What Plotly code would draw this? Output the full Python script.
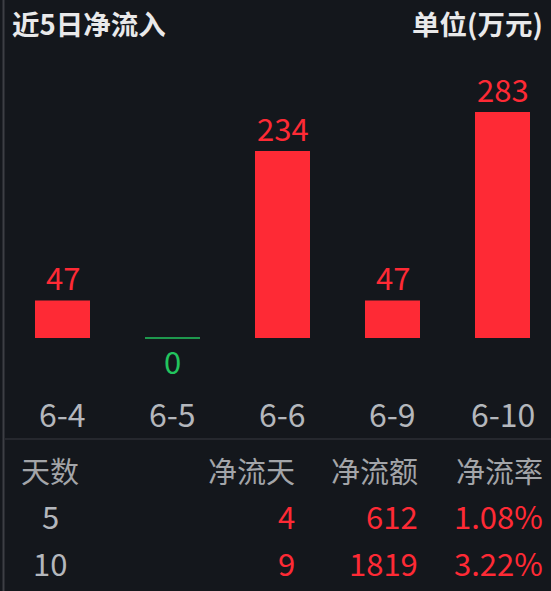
import plotly.graph_objects as go

# chart data
dates = ["6-4", "6-5", "6-6", "6-9", "6-10"]
net_inflow = [47, 0, 234, 47, 283]

# summary table
table_header = ["天数", "净流天", "净流额", "净流率"]
table_days = ["5", "10"]
table_inflow_days = ["4", "9"]
table_amount = ["612", "1819"]
table_rate = ["1.08%", "3.22%"]

W, H = 551, 591
BG = "#14171c"
RED = "#fe2a35"
GREEN = "#22c45e"
GRAY = "#b4b7bc"
FONT = "Noto Sans CJK SC"


def px(x):
    return x / W


def py(y):
    return 1 - y / H


fig = go.Figure()

# red bars for non-zero days
fig.add_trace(
    go.Bar(
        x=list(range(len(dates))),
        y=net_inflow,
        width=0.5,
        marker={"color": [RED if v > 0 else GREEN for v in net_inflow], "line": {"width": 0}},
        hoverinfo="skip",
    )
)

# zero days are a thin green line
for i, v in enumerate(net_inflow):
    if v == 0:
        fig.add_trace(
            go.Scatter(
                x=[i - 0.25, i + 0.25],
                y=[v, v],
                mode="lines",
                line={"color": GREEN, "width": 1.5},
                hoverinfo="skip",
            )
        )

annotations = []
# value labels
for i, v in enumerate(net_inflow):
    if v > 0:
        annotations.append(dict(x=i, y=v, xref="x", yref="y", text=str(v), showarrow=False,
                                yanchor="bottom", yshift=-1, font={"color": RED, "size": 31}))
    else:
        annotations.append(dict(x=i, y=v, xref="x", yref="y", text=str(v), showarrow=False,
                                yanchor="top", yshift=2, font={"color": GREEN, "size": 31}))
# date labels
for i, d in enumerate(dates):
    annotations.append(dict(x=i, y=py(413), xref="x", yref="paper", text=d, showarrow=False,
                            yanchor="middle", font={"color": GRAY, "size": 32}))

# title row
annotations.append(dict(x=px(10), y=py(23), xref="paper", yref="paper", text="<b>近5日净流入</b>",
                        showarrow=False, xanchor="left", yanchor="middle",
                        font={"color": "#e9e9ea", "size": 27.5}))
annotations.append(dict(x=px(545), y=py(23), xref="paper", yref="paper", text="<b>单位(万元)</b>",
                        showarrow=False, xanchor="right", yanchor="middle",
                        font={"color": "#e9e9ea", "size": 27.5}))

# table
col_x = [50, 297, 420, 545]
col_anchor = ["center", "right", "right", "right"]
row_y = [470, 515, 562]
for j, h in enumerate(table_header):
    annotations.append(dict(x=px(col_x[j]), y=py(row_y[0]), xref="paper", yref="paper", text=h,
                            showarrow=False, xanchor=col_anchor[j], yanchor="middle",
                            font={"color": "#a3a5a9", "size": 29}))
for r in range(len(table_days)):
    cells = [table_days[r], table_inflow_days[r], table_amount[r], table_rate[r]]
    for j, c in enumerate(cells):
        annotations.append(dict(x=px(col_x[j]), y=py(row_y[r + 1]), xref="paper", yref="paper", text=c,
                                showarrow=False, xanchor=col_anchor[j], yanchor="middle",
                                font={"color": GRAY if j == 0 else RED, "size": 31}))

shapes = [
    dict(type="line", xref="paper", yref="paper", x0=px(3.5), x1=px(3.5), y0=0, y1=1,
         line={"color": "#3d3f44", "width": 2}),
    dict(type="line", xref="paper", yref="paper", x0=px(5), x1=1, y0=py(439), y1=py(439),
         line={"color": "#2c2f35", "width": 1.5}),
]

# baseline sits at 338px from the top, 0.799 px per unit
scale = 0.799
base = H - 338
fig.update_layout(
    width=W,
    height=H,
    margin={"l": 0, "r": 0, "t": 0, "b": 0},
    paper_bgcolor=BG,
    plot_bgcolor=BG,
    showlegend=False,
    font={"family": FONT},
    xaxis={"range": [-62.5 / 110, (W - 62.5) / 110], "visible": False, "fixedrange": True},
    yaxis={"range": [-base / scale, (H - base) / scale], "visible": False, "fixedrange": True},
    annotations=annotations,
    shapes=shapes,
)

# drop the page's default body margin so the figure fills the window
fig.write_html(
    "out.html",
    config={"displayModeBar": False},
    post_script="document.body.style.margin='0';document.body.style.overflow='hidden';",
)
